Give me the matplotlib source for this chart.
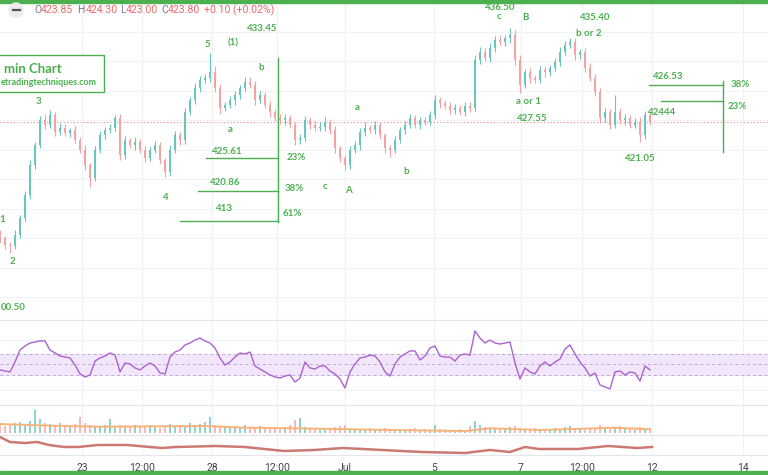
import matplotlib.pyplot as plt
from matplotlib.patches import Rectangle, Circle

plt.rcParams['font.family'] = ['Lato', 'DejaVu Sans']

# 5-minute candles (open of each bar = previous close)
first_open = 408.6
closes = [408.0, 407.1, 407.0, 408.5, 410.8, 413.9, 417.9, 420.6, 424.0, 423.4,
          424.7, 422.4, 423.0, 422.3, 422.7, 421.3, 420.0, 417.9, 416.2, 420.0,
          422.0, 422.7, 423.0, 424.3, 419.3, 421.3, 420.6, 421.1, 420.0, 418.9,
          420.0, 420.6, 418.6, 417.0, 420.0, 422.0, 421.3, 425.1, 426.7, 428.4,
          429.5, 429.7, 430.5, 428.4, 425.7, 426.1, 426.7, 427.4, 428.4, 429.2,
          428.8, 426.7, 427.4, 426.1, 425.1, 424.3, 424.0, 424.3, 423.4, 421.3,
          421.6, 424.0, 423.4, 423.0, 423.1, 423.8, 422.7, 420.2, 418.9, 417.9,
          420.0, 420.6, 422.4, 423.0, 422.7, 423.4, 422.0, 420.2, 420.0, 421.3,
          422.7, 423.4, 424.3, 423.4, 424.0, 423.8, 424.7, 426.7, 426.3, 425.9,
          425.4, 425.7, 425.1, 425.9, 425.7, 432.2, 433.3, 432.4, 433.8, 434.9,
          434.6, 435.1, 435.6, 432.2, 428.8, 430.5, 429.7, 429.5, 430.8, 430.5,
          431.1, 431.9, 433.3, 434.2, 434.6, 432.8, 433.3, 431.1, 429.7, 427.8,
          424.3, 425.1, 423.4, 425.1, 424.0, 424.3, 423.4, 423.8, 422.0, 424.7,
          423.8]
wick_up = [0.5, 0.3, 0.4, 0.6, 0.4, 0.5, 0.7, 0.5, 0.6, 0.8,
           0.7, 0.4, 0.6, 0.5, 0.3, 0.5, 0.4, 0.6, 0.3, 0.5,
           0.6, 0.4, 0.5, 0.4, 0.6, 0.5, 0.3, 0.6, 0.4, 0.5,
           0.4, 0.6, 0.5, 0.3, 0.6, 0.5, 0.4, 0.6, 0.5, 0.7,
           0.5, 0.6, 2.6, 0.8, 0.5, 0.4, 0.6, 0.5, 0.4, 0.7,
           0.6, 0.5, 0.6, 0.4, 0.5, 0.4, 0.6, 0.5, 0.4, 0.3,
           0.5, 0.6, 0.4, 0.5, 0.6, 0.7, 0.4, 0.5, 0.3, 0.4,
           0.5, 0.6, 0.5, 0.7, 0.4, 0.5, 0.4, 0.3, 0.5, 0.6,
           0.4, 0.5, 0.6, 0.4, 0.5, 0.4, 0.6, 0.7, 0.5, 0.4,
           0.6, 0.5, 0.4, 0.6, 0.5, 0.7, 0.6, 0.5, 0.7, 0.5,
           0.6, 0.5, 0.9, 0.6, 0.7, 0.5, 0.6, 0.4, 0.5, 0.6,
           0.4, 0.5, 0.6, 0.5, 0.5, 0.6, 0.4, 0.5, 0.6, 0.5,
           0.6, 0.5, 0.4, 2.3, 0.5, 0.6, 0.4, 0.5, 0.6, 0.5,
           0.4]
wick_dn = [0.6, 0.5, 1.0, 0.4, 0.5, 0.4, 0.6, 0.5, 0.4, 0.6,
           0.5, 0.6, 0.4, 0.5, 0.6, 0.4, 0.5, 0.6, 1.2, 0.5,
           0.4, 0.6, 0.5, 0.4, 0.7, 0.5, 0.4, 0.6, 0.5, 0.6,
           0.4, 0.5, 0.6, 0.7, 0.5, 0.4, 0.6, 0.5, 0.4, 0.5,
           0.6, 0.4, 0.5, 0.6, 0.8, 0.5, 0.4, 0.6, 0.5, 0.4,
           0.5, 0.6, 0.4, 0.5, 0.6, 0.4, 0.5, 0.6, 0.4, 0.7,
           0.5, 0.4, 0.6, 0.5, 0.4, 0.5, 0.6, 0.7, 0.5, 0.6,
           0.5, 0.4, 0.6, 0.5, 0.4, 0.6, 0.5, 0.6, 1.0, 0.5,
           0.4, 0.6, 0.5, 0.4, 0.6, 0.5, 0.4, 0.5, 0.6, 0.4,
           0.5, 0.6, 0.4, 0.5, 0.6, 0.5, 0.6, 0.4, 0.5, 0.6,
           0.4, 0.5, 0.6, 0.7, 1.1, 0.5, 0.6, 0.4, 0.5, 0.6,
           0.5, 0.4, 0.6, 0.5, 0.4, 0.6, 0.5, 0.6, 0.4, 0.5,
           0.7, 0.5, 0.6, 0.4, 0.5, 0.6, 0.5, 0.4, 0.95, 0.5,
           0.4]
last_price = 423.80

rsi = [44.8, 43.8, 42.9, 52.4, 63.8, 67.6, 70.5, 71.4, 72.5, 72.4,
       63.8, 61.0, 58.1, 57.1, 56.2, 49.5, 41.0, 38.1, 40.0, 53.3,
       56.2, 58.1, 61.0, 59.0, 42.9, 51.4, 50.5, 46.7, 44.8, 48.6,
       51.4, 48.6, 41.9, 41.0, 57.1, 61.9, 63.8, 68.6, 70.5, 73.3,
       75.2, 72.4, 70.5, 65.7, 56.2, 49.5, 52.4, 57.1, 61.0, 60.0,
       61.9, 48.6, 45.7, 42.9, 40.0, 38.1, 37.1, 39.0, 40.0, 33.3,
       37.1, 52.4, 46.7, 45.7, 48.6, 48.6, 43.8, 41.0, 36.2, 27.6,
       42.9, 50.5, 56.2, 57.1, 59.0, 58.1, 52.4, 42.9, 39.0, 50.5,
       57.1, 60.0, 62.9, 62.9, 54.3, 58.1, 65.7, 67.6, 58.1, 57.1,
       57.1, 53.3, 59.0, 60.0, 59.0, 81.9, 75.2, 70.5, 73.3, 70.5,
       69.5, 70.5, 71.4, 51.4, 36.2, 46.7, 42.9, 41.0, 48.6, 52.4,
       48.6, 52.4, 55.2, 64.8, 68.6, 60.0, 52.4, 46.7, 39.0, 41.9,
       30.5, 28.6, 26.7, 42.9, 43.8, 40.0, 42.9, 41.9, 34.3, 48.6,
       44.8]

volume = [8, 7, 9, 10, 11, 9, 12, 23, 14, 10,
          9, 8, 10, 7, 8, 9, 16, 10, 8, 7,
          6, 8, 14, 7, 8, 6, 7, 8, 6, 7,
          8, 6, 5, 7, 9, 6, 8, 7, 10, 8,
          9, 11, 16, 8, 7, 6, 5, 7, 6, 8,
          5, 6, 7, 5, 6, 4, 5, 6, 8, 13,
          15, 6, 4, 5, 3, 4, 5, 6, 7, 8,
          5, 4, 3, 4, 5, 3, 4, 5, 4, 3,
          4, 3, 4, 5, 3, 4, 3, 8, 4, 3,
          2, 3, 4, 3, 7, 12, 8, 6, 5, 4,
          5, 4, 6, 7, 5, 4, 3, 5, 4, 3,
          4, 5, 4, 6, 7, 5, 4, 3, 4, 5,
          8, 5, 4, 6, 7, 5, 4, 3, 6, 4,
          5]
vol_ma_idx = [0, 10, 20, 41, 49, 59, 78, 93, 98, 108, 123, 130]
vol_ma = [9.0, 7.3, 6.3, 7.0, 5.3, 4.7, 3.0, 2.0, 4.7, 3.0, 5.3, 3.7]

ind_idx = [0, 2, 5, 7.4, 9.8, 12.8, 15.6, 19.6, 25.4, 32.4, 35.2, 43.2, 49, 56.8,
           62.8, 68.6, 76.4, 84.4, 93.2, 94.6, 98, 102, 105, 107.8, 115.6, 121.6,
           127.4, 130.4]
ind_vals = [18, 13, 12, 13, 10, 8, 8, 10, 10, 7, 8, 9, 8, 4,
            5, 7, 5, 3, 2, 3, 5, 3, 8, 6, 6, 9, 7, 8]

tick_pos = [16.4, 28.4, 42.4, 55.4, 69, 86.8, 104.2, 116.4, 130.4, 148.6]
tick_labels = ['23', '12:00', '28', '12:00', 'Jul', '5', '7', '12:00', '12', '14']

# Elliott wave labels: (bar, price, text)
wave_labels = [(0.4, 410.5, '1'), (2.4, 404.8, '2'), (7.6, 426.6, '3'),
               (33.2, 413.5, '4'), (41.4, 434.3, '5'), (46.6, 434.5, '(1)'),
               (52.2, 431.2, 'b'), (46.0, 422.7, 'a'), (65.0, 415.0, 'c'),
               (69.6, 414.5, 'A'), (71.4, 425.7, 'a'), (81.2, 417.0, 'b'),
               (99.8, 438.0, 'c'), (105.0, 437.9, 'B'), (105.6, 426.5, 'a or 1'),
               (117.8, 435.8, 'b or 2')]
price_labels = [(52.4, 436.4, '433.45'), (45.4, 419.7, '425.61'), (45.0, 415.5, '420.86'),
                (44.8, 412.1, '413'), (100.0, 439.3, '436.50'), (106.4, 424.2, '427.55'),
                (119.0, 437.9, '435.40'), (133.6, 429.9, '426.53'), (132.4, 425.0, '42444'),
                (128.0, 418.8, '421.05')]
pct_labels = [(59.2, 418.9, '23%'), (58.8, 414.8, '38%'), (58.4, 411.4, '61%'),
              (148.0, 428.8, '38%'), (147.4, 425.8, '23%')]
# retracement lines: (price, x start, x end)
fib_left = [(418.9, 41.2, 55.6), (414.4, 39.6, 55.6), (410.35, 36.0, 55.6)]
fib_left_span = (55.6, 410.2, 432.4)
fib_right = [(428.8, 129.8, 144.6), (426.6, 132.2, 144.6)]
fib_right_span = (144.6, 419.7, 429.3)

up_col, dn_col = '#6cc5ba', '#f4a3a3'
green = '#4cb050'
grid_col = '#f0f2f6'
W, H = 768, 475

fig = plt.figure(figsize=(7.68, 4.75), dpi=100)


def panel(top, bottom):
    a = fig.add_axes([0, 1 - bottom / H, 1, (bottom - top) / H])
    a.set_xlim(0, W / 5)
    for s in a.spines.values():
        s.set_visible(False)
    a.tick_params(left=False, labelleft=False, bottom=False, labelbottom=False)
    for t in tick_pos:
        a.axvline(t, color=grid_col, lw=0.8, zorder=0)
    return a


ax = panel(3, 320)
ax_rsi = panel(320, 405)
ax_vol = panel(405, 435)
ax_ind = panel(435, 455)

# price panel
ax.set_ylim(396.93, 439.88)
for p in range(400, 440, 4):
    ax.axhline(p, color=grid_col, lw=0.8, zorder=0)
opens = [first_open] + closes[:-1]
xs = list(range(len(closes)))
highs = [max(o, c) + w for o, c, w in zip(opens, closes, wick_up)]
lows = [min(o, c) - w for o, c, w in zip(opens, closes, wick_dn)]
cols = [up_col if c >= o else dn_col for o, c in zip(opens, closes)]
ax.vlines(xs, lows, highs, colors=cols, lw=0.8, zorder=2)
ax.bar(xs, [max(abs(c - o), 0.08) for o, c in zip(opens, closes)],
       bottom=[min(o, c) for o, c in zip(opens, closes)], width=0.55, color=cols, zorder=3)
ax.axhline(last_price, color='#f08a8a', lw=0.8, ls=(0, (1, 2)), zorder=1)

txt = dict(color=green, fontsize=7, fontweight='bold', ha='center', va='center', zorder=5)
for x, y, s in wave_labels + price_labels + pct_labels:
    ax.text(x, y, s, **txt)
ax.text(0.1, 398.6, '00.50', color=green, fontsize=7, fontweight='bold', ha='left', va='center')

for y, x0, x1 in fib_left + fib_right:
    ax.plot([x0, x1], [y, y], color=green, lw=1, zorder=4)
for x, y0, y1 in (fib_left_span, fib_right_span):
    ax.plot([x, x], [y0, y1], color=green, lw=1, zorder=4)

# RSI panel
ax_rsi.set_ylim(11.4, 92.4)
for g in (73.3, 25.7):
    ax_rsi.axhline(g, color=grid_col, lw=0.8, zorder=0)
ax_rsi.axhspan(40, 60, color='#f1e6fb', zorder=0)
for g in (40, 50, 60):
    ax_rsi.axhline(g, color='#b8aec8', lw=0.7, ls=(0, (3, 3)), zorder=1)
ax_rsi.plot(xs, rsi, color='#ac62cf', lw=1, zorder=3)
ax_rsi.spines['top'].set_visible(True)
ax_rsi.spines['top'].set_color('#e3e5eb')

# volume panel
ax_vol.set_ylim(-2, 28)
ax_vol.bar(xs, volume, width=0.5, color=cols, alpha=0.75, zorder=2)
ax_vol.plot(vol_ma_idx, vol_ma, color='#f7b47a', lw=1.4, zorder=3)
ax_vol.spines['top'].set_visible(True)
ax_vol.spines['top'].set_color('#e3e5eb')

# lower indicator panel
ax_ind.set_ylim(0, 20)
ax_ind.plot(ind_idx, ind_vals, color='#c4625c', lw=1.8, alpha=0.85)
for side in ('top', 'bottom'):
    ax_ind.spines[side].set_visible(True)
    ax_ind.spines[side].set_color('#e3e5eb')
ax_ind.set_xticks(tick_pos)
ax_ind.set_xticklabels(tick_labels)
ax_ind.tick_params(bottom=False, labelbottom=True, length=0, pad=6, labelsize=7.5,
                   labelcolor='#444444')
for lab in ax_ind.get_xticklabels():
    lab.set_family(['Roboto', 'DejaVu Sans'])

# overlay for header, frame and caption box
ov = fig.add_axes([0, 0, 1, 1], zorder=10)
ov.set_xlim(0, W)
ov.set_ylim(H, 0)
ov.axis('off')
ov.patch.set_alpha(0)
ov.add_patch(Rectangle((0, 0), W, 2.5, color=green))
ov.add_patch(Rectangle((0, 471), W, 4, color=green))
ov.add_patch(Circle((16, 10), 7, color='#ececec'))
ov.plot([12.5, 19.5], [10, 10], color='#555555', lw=1.6)

hdr = dict(fontsize=7.6, va='center', ha='left', family=['Roboto', 'DejaVu Sans'])
for x, s, c in [(34, 'O', '#787b86'), (41, '423.85', '#f06a6a'),
                (77, 'H', '#787b86'), (86, '424.30', '#f06a6a'),
                (120, 'L', '#787b86'), (126, '423.00', '#f06a6a'),
                (161, 'C', '#787b86'), (168, '423.80', '#f06a6a'),
                (204, '+0.10 (+0.02%)', '#f06a6a')]:
    ov.text(x, 10, s, color=c, **hdr)

ov.add_patch(Rectangle((-10, 55), 114, 37, facecolor='white', edgecolor=green, lw=1))
ov.text(4, 69, 'min Chart', color=green, fontsize=9.5, fontweight='bold', ha='left', va='center')
ov.text(0.5, 82.5, 'etradingtechniques.com', color=green, fontsize=6.5,
        fontweight='bold', ha='left', va='center')

fig.savefig('out.png', dpi=100)
